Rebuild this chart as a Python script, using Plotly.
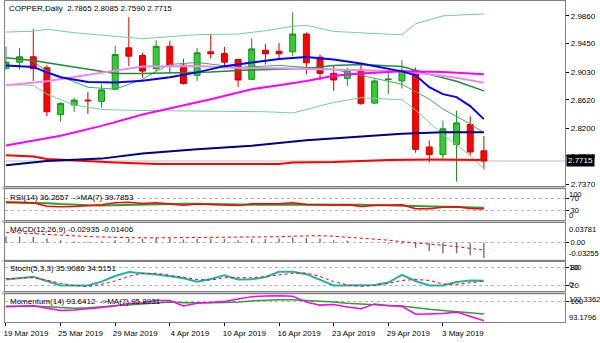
import plotly.graph_objects as go
import pandas as pd

# ---------------- data ----------------
dates = ["2019-03-19", "2019-03-20", "2019-03-21", "2019-03-22", "2019-03-25", "2019-03-26",
         "2019-03-27", "2019-03-28", "2019-03-29", "2019-04-01", "2019-04-02", "2019-04-03",
         "2019-04-04", "2019-04-05", "2019-04-08", "2019-04-09", "2019-04-10", "2019-04-11",
         "2019-04-12", "2019-04-15", "2019-04-16", "2019-04-17", "2019-04-18", "2019-04-22",
         "2019-04-23", "2019-04-24", "2019-04-25", "2019-04-26", "2019-04-29", "2019-04-30",
         "2019-05-01", "2019-05-02", "2019-05-03", "2019-05-06", "2019-05-07", "2019-05-08"]

opens = [2.9085, 2.9176, 2.9255, 2.9094, 2.8399, 2.8542, 2.8615, 2.8596, 2.8776, 2.9387, 2.9274, 2.9079,
         2.9410, 2.9132, 2.8981, 2.9328, 2.9303, 2.9215, 2.8922, 2.9352, 2.9337, 2.9328, 2.9592, 2.9249,
         2.9010, 2.8933, 2.9059, 2.8571, 2.8918, 2.8898, 2.9054, 2.7922, 2.7809, 2.7960, 2.8253, 2.7865]
highs = [2.9406, 2.9387, 2.9665, 2.9132, 2.8581, 2.8648, 2.8736, 2.8849, 2.9420, 2.9841, 2.9314, 2.9498,
         2.9494, 2.9226, 2.9387, 2.9596, 2.9401, 2.9226, 2.9527, 2.9445, 2.9460, 2.9914, 2.9615, 2.9289,
         2.9117, 2.9094, 2.9142, 2.8922, 2.9029, 2.9205, 2.9094, 2.8018, 2.8311, 2.8458, 2.8376, 2.8085]
lows = [2.9065, 2.9069, 2.8898, 2.8376, 2.8297, 2.8443, 2.8410, 2.8502, 2.8766, 2.9117, 2.8947, 2.9044,
        2.9010, 2.8845, 2.8898, 2.9226, 2.9088, 2.8810, 2.8908, 2.9140, 2.9215, 2.9264, 2.8996, 2.8908,
        2.8751, 2.8824, 2.8542, 2.8556, 2.8703, 2.8786, 2.7838, 2.7692, 2.7750, 2.7409, 2.7799, 2.7590]
closes = [2.9176, 2.9255, 2.9079, 2.8443, 2.8567, 2.8615, 2.8605, 2.8766, 2.9289, 2.9264, 2.9044, 2.9410,
          2.9128, 2.8859, 2.9314, 2.9299, 2.9176, 2.8912, 2.9372, 2.9299, 2.9299, 2.9592, 2.9167, 2.9010,
          2.8912, 2.9059, 2.8567, 2.8898, 2.8925, 2.9054, 2.7887, 2.7809, 2.8190, 2.8278, 2.7848, 2.7715]

# moving averages / bands on the price chart (bar index, value)
blue_i = [0, 2, 3, 4, 6, 8, 10, 12, 14, 16, 18, 20, 22, 24, 26, 28, 29, 30, 31, 32, 33, 34, 35]
blue_v = [2.9128, 2.9106, 2.9025, 2.8952, 2.8883, 2.8874, 2.8901, 2.8952, 2.9025, 2.9117, 2.9171, 2.9223,
          2.9252, 2.9215, 2.9157, 2.9084, 2.9040, 2.8981, 2.8805, 2.8703, 2.8659, 2.8527, 2.8334]
magenta_i = [0, 4, 7, 10, 15, 18, 20, 22, 24, 26, 29, 32, 35]
magenta_v = [2.7945, 2.8087, 2.8234, 2.8402, 2.8629, 2.8776, 2.8835, 2.8898, 2.8974, 2.9010, 2.9040,
             2.9032, 2.8996]
violet_i = [0, 3, 7, 10, 14, 17, 20, 25, 29, 31, 33, 35]
violet_v = [2.8835, 2.8893, 2.9018, 2.9113, 2.9120, 2.9091, 2.9084, 2.9062, 2.9040, 2.8996, 2.8944, 2.8871]
navy_i = [0, 3, 7, 10, 14, 18, 22, 26, 29, 32, 35]
navy_v = [2.7652, 2.7714, 2.7750, 2.7824, 2.7889, 2.7941, 2.8021, 2.8080, 2.8117, 2.8139, 2.8139]
red_i = [0, 2, 3, 6, 8, 11, 20, 21, 24, 28, 31, 35]
red_v = [2.7799, 2.7780, 2.7743, 2.7711, 2.7692, 2.7670, 2.7670, 2.7692, 2.7699, 2.7728, 2.7736, 2.7731]
bbu_i = [0, 2, 3, 5, 8, 10, 14, 17, 19, 21, 22, 24, 28, 29, 30, 32, 35]
bbu_v = [2.9621, 2.9633, 2.9662, 2.9611, 2.9557, 2.9523, 2.9582, 2.9592, 2.9640, 2.9706, 2.9721, 2.9630,
         2.9589, 2.9582, 2.9743, 2.9860, 2.9889]
bbl_i = [0, 2, 3, 5, 7, 10, 19, 21, 24, 26, 28, 29, 30, 31, 32, 33, 34, 35]
bbl_v = [2.8842, 2.8835, 2.8703, 2.8542, 2.8476, 2.8461, 2.8443, 2.8424, 2.8581, 2.8651, 2.8629, 2.8622,
         2.8468, 2.8278, 2.8102, 2.7955, 2.7794, 2.7604]
bbm_i = [0, 2, 3, 6, 8, 10, 15, 17, 20, 22, 24, 26, 29, 31, 33, 35]
bbm_v = [2.9240, 2.9201, 2.9167, 2.9069, 2.9010, 2.9010, 2.9029, 2.9054, 2.9069, 2.9084, 2.9128, 2.9142,
         2.9113, 2.8995, 2.8893, 2.8751]
env_i = [2, 3, 6, 8, 10, 11, 12, 14, 17, 20, 24, 28, 29, 31, 32, 34, 35]
env_v = [2.9186, 2.9040, 2.8805, 2.8776, 2.8922, 2.9040, 2.9142, 2.9171, 2.9098, 2.9128, 2.9069, 2.8893,
         2.8849, 2.8629, 2.8483, 2.8263, 2.8131]

# oscillators (one value per bar)
rsi = [59, 58, 56, 45, 43, 44, 46, 50, 56, 58, 54, 56, 52, 48, 52, 51, 50, 47, 53, 53, 53, 56, 51, 50,
       48, 50, 44, 47, 48, 50, 37, 37, 42, 43, 38, 36.2657]
rsi_ma = [57, 57, 57, 55, 52, 49, 48, 47, 48, 50, 52, 53, 54, 53, 53, 52, 51, 50, 50, 51, 51, 52, 52, 52,
          51, 51, 50, 49, 48, 48, 46, 45, 44, 43, 41, 39.7853]
macd_main = [0.012, 0.012, 0.011, 0.008, 0.005, 0.003, 0.002, 0.003, 0.005, 0.008, 0.007, 0.009, 0.008,
             0.006, 0.007, 0.007, 0.007, 0.005, 0.007, 0.007, 0.008, 0.010, 0.009, 0.008, 0.005, 0.004,
             0.001, 0.000, -0.002, -0.002, -0.0097, -0.016, -0.020, -0.020, -0.024, -0.02935]
macd_signal = [0.020, 0.0185, 0.0175, 0.0165, 0.015, 0.0135, 0.012, 0.011, 0.010, 0.0095, 0.0093, 0.0093,
               0.0095, 0.0097, 0.0098, 0.0099, 0.0099, 0.0098, 0.0098, 0.0105, 0.0115, 0.0125, 0.0135,
               0.0135, 0.0125, 0.011, 0.009, 0.007, 0.005, 0.002, 0.000, -0.0025, -0.005, -0.0075,
               -0.0105, -0.01406]
stoch_k = [40, 45, 49, 35, 20, 20, 20, 33, 52, 65, 62, 57, 51, 44, 33, 42, 54, 40, 41, 48, 66, 66, 58, 40,
           20, 20, 20, 22, 30, 56, 35, 20, 20, 32, 37, 35.9086]
stoch_d = [43, 45, 46, 38, 27, 20, 16, 24, 35, 51, 60, 61, 55, 48, 40, 38, 46, 46, 46, 50, 56, 61, 62, 50,
           33, 22, 17, 20, 27, 37, 40, 37, 25, 24, 29, 34.5151]
momentum = [98.3, 98.5, 98.6, 97.8, 97.0, 97.2, 97.5, 98.0, 98.6, 99.3, 99.6, 100.3, 100.3, 98.5, 99.4,
            99.6, 100.0, 100.8, 101.6, 101.8, 101.9, 101.7, 99.8, 98.8, 99.0, 98.2, 97.6, 99.2, 98.6,
            98.4, 95.8, 95.9, 96.0, 96.5, 95.0, 93.6412]
momentum_ma = [98.4, 98.5, 98.5, 98.3, 98.0, 97.8, 97.9, 98.2, 98.5, 98.8, 99.0, 99.5, 99.8, 99.6, 99.5,
               99.6, 99.7, 99.8, 100.2, 100.5, 100.6, 100.6, 100.4, 100.1, 99.8, 99.4, 99.1, 98.9, 98.7,
               98.5, 97.9, 97.4, 97.0, 96.7, 96.3, 95.8931]

price_ticks = [2.9860, 2.9450, 2.9030, 2.8620, 2.8200, 2.7790, 2.7370]
date_tick_step = 4

# ---------------- layout helpers ----------------
W, H = 600, 343
FONT = "Liberation Sans"
RFONT = dict(family=FONT, size=7.5, color="black")


def fy(px):
    return 1 - px / H


def fx(px):
    return px / W


idx = list(range(len(dates)))
xr = [-0.07, 40.95]
xdom = [fx(3), fx(565)]
panels = {"": (1, 188), "2": (191, 222), "3": (225, 262), "4": (264, 294), "5": (297, 325)}

fig = go.Figure()


def line(xs, ys, color, width, ax="", dash="solid", opacity=1.0):
    fig.add_trace(go.Scatter(x=xs, y=ys, mode="lines", xaxis="x" + ax, yaxis="y" + ax,
                             line=dict(color=color, width=width, dash=dash), opacity=opacity,
                             hoverinfo="skip", showlegend=False))


# main chart lines (under candles)
line(bbu_i, bbu_v, "#72D09A", 1)
line(bbl_i, bbl_v, "#72D09A", 1)
line(env_i, env_v, "#3DAA5C", 1)
line(bbm_i, bbm_v, "#1E8C32", 1.5)
line(red_i, red_v, "#FF0000", 2)
line(navy_i, navy_v, "#000080", 2)
line(violet_i, violet_v, "#EE8AEE", 2)
line(magenta_i, magenta_v, "#FF00FF", 2)
line(blue_i, blue_v, "#0000FF", 2)

fig.add_trace(go.Candlestick(
    x=idx, open=opens, high=highs, low=lows, close=closes, xaxis="x", yaxis="y",
    increasing=dict(line=dict(color="#1F8A1F", width=1), fillcolor="#33CC33"),
    decreasing=dict(line=dict(color="#D00000", width=1), fillcolor="#FF0000"),
    whiskerwidth=0, hoverinfo="skip", showlegend=False))

# RSI
line(idx, rsi_ma, "#2E9E2E", 2, ax="2")
line(idx, rsi, "#FF0000", 1.5, ax="2")
# MACD
fig.add_trace(go.Bar(x=idx, y=macd_main, xaxis="x3", yaxis="y3", width=0.1,
                     marker=dict(color="#707070", line=dict(width=0)), hoverinfo="skip",
                     showlegend=False))
line(idx, macd_signal, "#FF0000", 1, ax="3", dash="dot")
# Stochastic
line(idx, stoch_k, "#20B2AA", 2, ax="4")
line(idx, stoch_d, "#FF0000", 1, ax="4", dash="dot")
# Momentum
line(idx, momentum_ma, "#2E9E2E", 1.5, ax="5")
line(idx, momentum, "#FF00FF", 1.5, ax="5")

tick_i = idx[::date_tick_step]
tick_t = [f"{pd.Timestamp(dates[i]).day} {pd.Timestamp(dates[i]).strftime('%b %Y')}" for i in tick_i]

axis_line = "#808080"
layout = dict(width=W, height=H, margin=dict(l=0, r=0, t=0, b=0),
              paper_bgcolor="white", plot_bgcolor="white", showlegend=False, hovermode=False,
              boxgap=0.38, font=dict(family=FONT, size=8, color="black"))

yconf = {
    "": dict(range=[2.7340, 3.0080], tickvals=price_ticks, tickformat=".4f", showgrid=False),
    "2": dict(range=[0, 100], tickvals=[70, 30], showgrid=True),
    "3": dict(range=[-0.03255, 0.03781], tickvals=[0], ticktext=["0.00"], showgrid=True),
    "4": dict(range=[0, 100], tickvals=[80, 20], showgrid=True),
    "5": dict(range=[93.1796, 102.3362], tickvals=[100], showgrid=True),
}
for ax, (top, bot) in panels.items():
    xa = dict(domain=xdom, range=xr, anchor="y" + ax, showline=True, mirror=True,
              linecolor=axis_line, linewidth=1, showgrid=False, zeroline=False,
              showticklabels=False, ticks="", fixedrange=True)
    if ax == "5":
        xa.update(showticklabels=True, tickvals=tick_i, ticktext=tick_t, ticks="outside",
                  ticklen=3, tickcolor="black", ticklabelshift=20,
                  tickfont=dict(family=FONT, size=8, color="black"))
    ya = dict(domain=[fy(bot), fy(top)], anchor="x" + ax, side="right", showline=True, mirror=True,
              linecolor=axis_line, linewidth=1, zeroline=False, ticks="outside", ticklen=3,
              tickcolor="black", gridcolor="#B0B0B0", griddash="dot", gridwidth=1,
              tickfont=RFONT if ax else dict(family=FONT, size=8, color="black"), fixedrange=True)
    ya.update(yconf[ax])
    layout["xaxis" + ax] = xa
    layout["yaxis" + ax] = ya

shapes = []
# separators between indicator windows
for a, b in [(188, 191), (222, 225), (262, 264), (294, 297)]:
    shapes.append(dict(type="rect", xref="paper", yref="paper", x0=fx(0), x1=fx(565),
                       y0=fy(b), y1=fy(a), fillcolor="#C4C4C4", line=dict(width=0), layer="below"))
# current price line
shapes.append(dict(type="line", xref="paper", yref="y", x0=xdom[0], x1=xdom[1],
                   y0=closes[-1], y1=closes[-1], line=dict(color="#BEBEBE", width=1), layer="below"))

ann = []


def text(s, xpx, ypx, **kw):
    d = dict(text=s, xref="paper", yref="paper", x=fx(xpx), y=fy(ypx), xanchor="left",
             yanchor="middle", showarrow=False, font=dict(family=FONT, size=8, color="black"))
    d.update(kw)
    ann.append(d)


text(f"COPPER,Daily  {opens[-1]:.4f} {highs[-1]:.4f} {lows[-1]:.4f} {closes[-1]:.4f}", 5, 9)
text(f"RSI(14) {rsi[-1]:.4f}  ->MA(7) {rsi_ma[-1]:.4f}", 6, 199)
text(f"MACD(12,26,9) {macd_main[-1]:.5f} {macd_signal[-1]:.5f}", 6, 232)
text(f"Stoch(5,3,3) {stoch_k[-1]:.4f} {stoch_d[-1]:.4f}", 6, 271)
text(f"Momentum(14) {momentum[-1]:.4f}  ->MA(7) {momentum_ma[-1]:.4f}", 6, 304)


def edge_label(s, ax, val, shift):
    ann.append(dict(text=s, xref="paper", yref="y" + ax, x=fx(567), y=val, yshift=shift,
                    xanchor="left", yanchor="middle", showarrow=False, font=RFONT))


edge_label("100", "2", 100, -5)
edge_label("0", "2", 0, 5)
edge_label("0.03781", "3", 0.03781, -6.5)
edge_label("-0.03255", "3", -0.03255, 6)
edge_label("100", "4", 100, -6)
edge_label("0", "4", 0, 6.5)
edge_label("102.3362", "5", 102.3362, -5)
edge_label("93.1796", "5", 93.1796, 5)

# current price tag
ann.append(dict(text=f"{closes[-1]:.4f}", xref="paper", yref="y", x=fx(566), y=closes[-1],
                xanchor="left", yanchor="middle", showarrow=False, bgcolor="black", borderpad=1,
                font=dict(family=FONT, size=8, color="white")))

layout["shapes"] = shapes
layout["annotations"] = ann
fig.update_layout(**layout)
fig.update_layout(xaxis_rangeslider_visible=False)

fig.write_html("out.html", config={"displayModeBar": False, "staticPlot": True})
